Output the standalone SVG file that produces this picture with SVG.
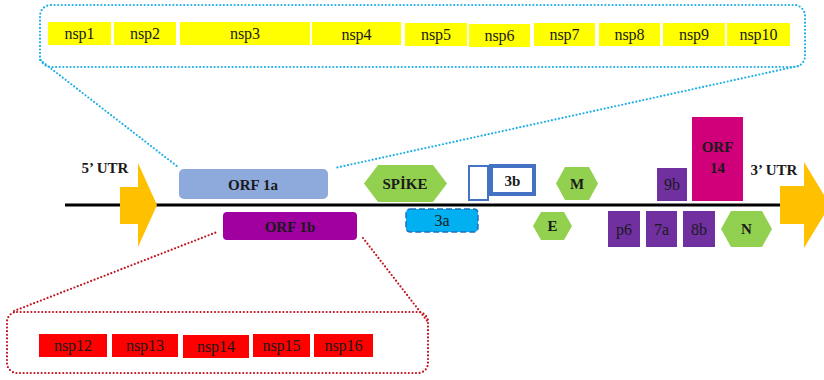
<svg xmlns="http://www.w3.org/2000/svg" width="824" height="380" viewBox="0 0 824 380">
<style>
text{font-family:'Liberation Serif','DejaVu Serif','Times New Roman',serif;text-anchor:middle;fill:#1a1a1a}
.b{font-weight:bold}
.y{fill:#FFFF00}
.r{fill:#FF0000}
.hex{fill:#92D050}
.pp{fill:#7030A0}
.bdot{fill:none;stroke:#1EAEE6;stroke-width:2.2;stroke-dasharray:0 3.6;stroke-linecap:round}
.rdot{fill:none;stroke:#C0141E;stroke-width:2.2;stroke-dasharray:0 3.6;stroke-linecap:round}
.utr{fill:#FFC000}
</style>
<rect width="824" height="380" fill="#ffffff"/>
<g id="connectors">
<line x1="65" y1="205" x2="782" y2="205" stroke="#000" stroke-width="3"/>
<path class="bdot" d="M40 60 L178 167"/>
<path class="bdot" d="M798 66 L335 168"/>
<path class="rdot" d="M14 311 L217 232"/>
<path class="rdot" d="M363 238 L428 322"/>
</g>
<g id="nsp-top">
<rect class="bdot" x="40" y="5" width="765" height="62" rx="11"/>
<rect class="y" x="48" y="22" width="63" height="23"/><text x="79.5" y="39" font-size="16">nsp1</text>
<rect class="y" x="114" y="22" width="62" height="23"/><text x="145" y="39" font-size="16">nsp2</text>
<rect class="y" x="180" y="22" width="130" height="23"/><text x="245" y="39" font-size="16">nsp3</text>
<rect class="y" x="312" y="22" width="89" height="23"/><text x="356.5" y="40" font-size="16">nsp4</text>
<rect class="y" x="405" y="23" width="62" height="23"/><text x="436" y="40" font-size="16">nsp5</text>
<rect class="y" x="469" y="24" width="61" height="23"/><text x="499.5" y="41" font-size="16">nsp6</text>
<rect class="y" x="534" y="23" width="61" height="23"/><text x="564.5" y="40" font-size="16">nsp7</text>
<rect class="y" x="599" y="23" width="61" height="23"/><text x="629.5" y="40" font-size="16">nsp8</text>
<rect class="y" x="663" y="23" width="62" height="23"/><text x="694" y="40" font-size="16">nsp9</text>
<rect class="y" x="727" y="23" width="63" height="23"/><text x="758.5" y="40" font-size="16">nsp10</text>
</g>
<g id="utr5">
<polygon class="utr" points="120,187 138,187 138,163 157,205 138,247 138,224 120,224"/>
<text class="b" x="105" y="173" font-size="15">5’ UTR</text>
</g>
<g id="orf1a">
<rect x="179" y="169" width="149" height="30" rx="5" fill="#8EA9DB"/>
<text class="b" x="253" y="190" font-size="15">ORF 1a</text>
</g>
<g id="orf1b">
<rect x="223" y="212" width="134" height="28" rx="4" fill="#A000A0"/>
<text class="b" x="290" y="232" font-size="15">ORF 1b</text>
</g>
<g id="spike">
<polygon class="hex" points="364,183.5 378,165 433,165 447,183.5 433,202 378,202"/>
<text class="b" x="405" y="189" font-size="15">SPİKE</text>
</g>
<g id="b3">
<rect x="469" y="166" width="19" height="34" fill="#fff" stroke="#4472C4" stroke-width="2"/>
<rect x="491" y="166" width="43" height="28" fill="#fff" stroke="#4472C4" stroke-width="4"/>
<text class="b" x="512.5" y="186" font-size="15">3b</text>
</g>
<g id="m">
<polygon class="hex" points="556,183.5 565,167 589,167 598,183.5 589,200 565,200"/>
<text class="b" x="577" y="189" font-size="15">M</text>
</g>
<g id="a3">
<rect x="406" y="209" width="72" height="23" rx="4" fill="#00B0F0" stroke="#1F6FBF" stroke-width="1.5" stroke-dasharray="6 3"/>
<text x="442" y="226" font-size="16">3a</text>
</g>
<g id="e">
<polygon class="hex" points="533,226 541,212 564,212 572,226 564,240 541,240"/>
<text class="b" x="552.5" y="231" font-size="15">E</text>
</g>
<g id="orf14">
<rect x="692" y="117" width="51" height="84" fill="#D0007A"/>
<text class="b" x="717.5" y="152" font-size="15">ORF</text>
<text class="b" x="717.5" y="173" font-size="15">14</text>
</g>
<g id="b9">
<rect class="pp" x="657" y="168" width="30" height="33"/>
<text x="672" y="190" font-size="16">9b</text>
</g>
<g id="p6">
<rect class="pp" x="608" y="211" width="32" height="36"/>
<text x="624" y="235" font-size="16">p6</text>
</g>
<g id="a7">
<rect class="pp" x="646" y="211" width="31" height="36"/>
<text x="661.5" y="235" font-size="16">7a</text>
</g>
<g id="b8">
<rect class="pp" x="683" y="211" width="32" height="36"/>
<text x="699" y="235" font-size="16">8b</text>
</g>
<g id="n">
<polygon class="hex" points="721,229 731,211 762,211 772,229 762,247 731,247"/>
<text class="b" x="746.5" y="234" font-size="15">N</text>
</g>
<g id="utr3">
<polygon class="utr" points="780,186 804,186 804,162 830,205 804,248 804,224 780,224"/>
<text class="b" x="774" y="175" font-size="15">3’ UTR</text>
</g>
<g id="nsp-bottom">
<rect class="rdot" x="7" y="312" width="421" height="61" rx="10"/>
<rect class="r" x="39" y="334" width="68" height="23"/><text x="73" y="351" font-size="16">nsp12</text>
<rect class="r" x="112" y="334" width="66" height="23"/><text x="145" y="351" font-size="16">nsp13</text>
<rect class="r" x="183" y="335" width="66" height="23"/><text x="216" y="352" font-size="16">nsp14</text>
<rect class="r" x="253" y="334" width="57" height="23"/><text x="281.5" y="351" font-size="16">nsp15</text>
<rect class="r" x="314" y="334" width="59" height="23"/><text x="343.5" y="351" font-size="16">nsp16</text>
</g>
</svg>
